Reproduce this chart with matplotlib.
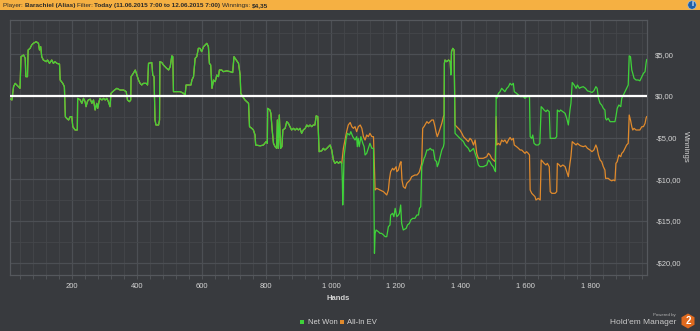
import numpy as np
import matplotlib
matplotlib.use("Agg")
import matplotlib.pyplot as plt
from matplotlib.patches import Rectangle, Circle, RegularPolygon
from matplotlib.ticker import MultipleLocator, FuncFormatter

matplotlib.rcParams["font.family"] = ["Liberation Sans", "DejaVu Sans"]

# Net Won (hands, dollars)
net_hands = [6, 14, 19, 24, 34, 39, 42, 50, 55, 57, 62, 64, 70, 75, 80, 89, 96, 99, 103, 106,
             111, 120, 124, 130, 137, 142, 147, 153, 161, 163, 171, 176, 179, 183, 189, 194, 199, 202, 209, 216,
             217, 225, 230, 235, 240, 243, 247, 250, 256, 261, 266, 271, 276, 279, 283, 286, 292, 297, 302, 307,
             312, 317, 320, 328, 338, 348, 359, 367, 371, 377, 381, 382, 389, 395, 400, 405, 410, 415, 420, 429,
             433, 436, 446, 449, 453, 456, 459, 467, 470, 471, 477, 482, 487, 492, 498, 503, 508, 511, 513, 523,
             534, 544, 549, 552, 567, 570, 575, 580, 585, 590, 595, 600, 606, 611, 616, 621, 624, 628, 632, 637,
             642, 647, 652, 655, 662, 667, 678, 688, 696, 700, 707, 714, 719, 721, 727, 734, 745, 748, 755, 760,
             765, 767, 781, 791, 799, 803, 804, 811, 814, 818, 822, 827, 832, 834, 837, 840, 844, 848, 851, 858,
             863, 868, 873, 878, 884, 889, 894, 899, 904, 909, 914, 920, 925, 930, 935, 940, 945, 950, 954, 959,
             963, 971, 976, 981, 987, 992, 997, 1002, 1007, 1012, 1018, 1023, 1028, 1033, 1035, 1036, 1038, 1040, 1046, 1050,
             1057, 1061, 1067, 1074, 1079, 1081, 1084, 1087, 1092, 1098, 1102, 1105, 1110, 1115, 1120, 1126, 1131, 1133, 1134, 1136,
             1139, 1146, 1151, 1156, 1162, 1167, 1172, 1177, 1182, 1184, 1190, 1194, 1198, 1203, 1208, 1211, 1215, 1218, 1223, 1232,
             1236, 1242, 1246, 1252, 1259, 1265, 1270, 1273, 1277, 1280, 1283, 1287, 1290, 1296, 1301, 1306, 1311, 1316, 1321, 1326,
             1328, 1332, 1337, 1342, 1347, 1349, 1350, 1352, 1357, 1363, 1368, 1370, 1372, 1376, 1380, 1383, 1388, 1398, 1404, 1409,
             1414, 1419, 1424, 1429, 1435, 1440, 1445, 1450, 1455, 1460, 1470, 1481, 1486, 1491, 1496, 1501, 1505, 1508, 1510, 1512,
             1517, 1522, 1527, 1532, 1537, 1543, 1548, 1553, 1558, 1563, 1566, 1573, 1579, 1584, 1594, 1599, 1604, 1609, 1613, 1615,
             1620, 1623, 1627, 1633, 1640, 1645, 1649, 1654, 1658, 1664, 1668, 1674, 1677, 1682, 1692, 1697, 1699, 1705, 1709, 1716,
             1723, 1728, 1733, 1738, 1741, 1745, 1751, 1757, 1761, 1767, 1771, 1779, 1786, 1792, 1800, 1806, 1812, 1818, 1822, 1826,
             1831, 1836, 1841, 1846, 1848, 1851, 1856, 1862, 1867, 1872, 1877, 1880, 1884, 1889, 1895, 1898, 1903, 1908, 1913, 1918,
             1921, 1925, 1929, 1932, 1936, 1942, 1949, 1954, 1960, 1965, 1970, 1973, 1975]
net_won = [-0.3, -0.5, 1.1, 1.5, 1.1, 0.9, 4.7, 4.9, 4.5, 2.3, 2.3, 5.5, 5.7, 6.1, 6.3, 6.5, 6.3, 5.5, 5.9, 4.7,
           4.3, 4.1, 4.3, 3.9, 4.3, 3.9, 4.1, 3.9, 3.8, 1.9, 1.5, 1.1, -2.5, -2.7, -2.9, -2.5, -2.5, -3.7, -4.1, -4.1,
           -0.3, -0.5, -0.9, -0.3, -0.7, -1.3, -0.7, -0.5, -0.4, -0.9, -0.5, -1.7, -0.9, -1.5, -0.7, -0.3, -0.5, -0.3, -0.5, -0.3,
           -0.7, -1.3, 0.3, 0.6, 0.9, 0.7, 0.7, 0.5, -0.5, -0.7, -0.5, 2.3, 2.7, 3.1, 2.5, 1.9, 1.5, 1.3, 1.5, 1.5,
           1.3, 3.9, 4.0, 2.5, 2.3, -2.9, -3.5, -3.5, -2.9, 4.1, 4.0, 3.7, 3.5, 3.3, 3.1, 3.5, 4.8, 4.7, 0.5, 0.5,
           0.5, 0.3, 0.1, 1.3, 1.3, 1.9, 2.3, 4.5, 4.7, 5.7, 5.7, 5.3, 5.9, 6.1, 6.3, 5.9, 3.9, 3.7, 0.9, 1.9,
           1.7, 2.5, 2.3, 3.1, 3.1, 2.9, 3.0, 2.9, 2.8, 4.7, 4.3, 3.9, 2.5, 0.3, -0.1, -0.5, -0.9, -3.7, -3.9, -4.1,
           -4.7, -5.9, -6.0, -5.9, -5.5, -5.7, -1.5, -1.7, -2.1, -4.1, -5.7, -6.1, -6.3, -2.9, -6.3, -2.3, -6.3, -6.1, -4.1, -3.9,
           -3.1, -3.3, -3.7, -4.1, -3.9, -4.1, -3.9, -4.1, -3.9, -4.5, -4.1, -3.9, -3.5, -3.7, -3.5, -3.7, -3.5, -3.5, -2.4, -2.5,
           -6.7, -6.6, -6.3, -6.5, -6.3, -6.1, -5.9, -6.5, -7.7, -8.1, -7.9, -8.1, -7.9, -8.1, -10.5, -13.1, -10.5, -7.3, -5.3, -4.5,
           -4.7, -4.3, -4.9, -5.3, -4.9, -6.1, -5.1, -6.1, -4.9, -5.7, -6.1, -7.1, -6.9, -6.3, -5.7, -6.3, -6.3, -15.3, -18.9, -16.5,
           -16.1, -16.3, -16.5, -16.5, -16.7, -16.9, -16.9, -15.7, -15.5, -14.3, -14.1, -14.5, -13.5, -14.5, -14.3, -14.1, -13.1, -15.3, -16.1, -15.9,
           -15.5, -15.3, -14.9, -14.7, -14.7, -14.3, -14.3, -13.5, -13.3, -8.5, -8.1, -7.5, -7.3, -6.5, -6.5, -6.3, -6.5, -6.5, -7.7, -7.9,
           -8.5, -8.1, -7.3, -6.5, -6.1, -5.7, 3.9, 4.3, 4.1, 4.3, 4.1, 2.5, 5.3, 5.7, 5.5, -4.5, -4.7, -5.1, -5.3, -5.5,
           -5.9, -6.1, -6.3, -6.7, -6.5, -6.3, -6.9, -7.5, -8.3, -8.5, -8.5, -8.3, -7.7, -7.9, -8.3, -8.5, -8.9, -9.1, -0.1, -0.3,
           0.3, 0.5, 0.9, 0.7, 0.5, 0.9, 1.1, 1.5, 1.3, 1.5, 0.5, 0.3, 0.1, -0.1, -0.1, -0.3, -0.1, -0.1, -0.1, -4.9,
           -5.1, -4.7, -5.7, -5.9, -5.9, -5.7, -1.3, -1.5, -1.7, -1.9, -1.7, -1.9, -5.1, -5.1, -5.1, -4.9, -1.7, -1.9, -1.7, -1.9,
           -2.1, -2.7, -3.5, -1.7, -0.9, 1.6, 1.3, 0.9, 1.3, 0.9, 1.0, 1.1, 0.9, 0.6, 0.5, 0.4, 0.6, 1.1, 0.9, -0.3,
           -0.9, -1.1, -1.5, -1.7, -2.7, -2.9, -2.7, -3.1, -3.1, -3.1, -3.1, -2.5, -1.5, -1.1, -1.3, -0.3, 0.1, 0.5, 0.9, 1.3,
           4.8, 4.7, 3.1, 2.7, 2.1, 1.9, 1.9, 1.8, 2.3, 2.7, 2.9, 3.9, 4.35]

# All-In EV, where it differs from Net Won (before hand 1033 both are the same)
ev_split = 1033
ev_hands = [1033, 1038, 1043, 1048, 1053, 1059, 1064, 1069, 1074, 1079, 1084, 1090, 1095, 1100, 1105, 1110, 1115, 1120, 1126, 1131,
            1134, 1136, 1141, 1151, 1162, 1167, 1172, 1177, 1180, 1184, 1190, 1194, 1201, 1203, 1208, 1213, 1216, 1219, 1223, 1229,
            1234, 1239, 1244, 1249, 1254, 1259, 1265, 1270, 1273, 1277, 1280, 1283, 1287, 1290, 1296, 1301, 1306, 1311, 1316, 1321,
            1324, 1328, 1332, 1337, 1342, 1347, 1349, 1350, 1352, 1357, 1363, 1368, 1370, 1372, 1376, 1380, 1383, 1388, 1393, 1398,
            1404, 1409, 1414, 1419, 1424, 1429, 1434, 1440, 1445, 1448, 1450, 1455, 1460, 1470, 1481, 1486, 1491, 1496, 1501, 1507,
            1510, 1512, 1517, 1522, 1527, 1532, 1537, 1543, 1548, 1553, 1558, 1563, 1566, 1573, 1579, 1584, 1589, 1594, 1599, 1604,
            1609, 1613, 1615, 1620, 1625, 1630, 1633, 1640, 1646, 1649, 1654, 1658, 1664, 1668, 1674, 1677, 1682, 1692, 1697, 1699,
            1705, 1709, 1716, 1723, 1728, 1733, 1738, 1741, 1745, 1751, 1757, 1761, 1767, 1771, 1779, 1786, 1792, 1800, 1806, 1812,
            1818, 1822, 1826, 1831, 1836, 1841, 1846, 1848, 1856, 1862, 1867, 1872, 1877, 1880, 1884, 1889, 1895, 1898, 1903, 1908,
            1913, 1918, 1921, 1925, 1929, 1932, 1936, 1942, 1949, 1954, 1960, 1965, 1970, 1973, 1975]
ev_won = [-8.1, -6.3, -5.3, -4.3, -3.5, -3.2, -3.7, -3.9, -3.7, -4.3, -3.7, -3.5, -3.9, -4.9, -5.3, -4.7, -4.9, -4.5, -4.9, -4.9,
          -8.5, -11.3, -11.1, -11.3, -11.5, -11.7, -11.9, -11.3, -10.1, -9.1, -8.7, -8.9, -8.5, -9.1, -8.9, -8.1, -7.9, -10.1, -10.9, -11.1,
          -10.5, -10.3, -10.1, -9.7, -9.6, -9.5, -9.5, -9.3, -9.1, -8.5, -8.1, -3.9, -3.7, -3.5, -3.1, -3.3, -3.1, -2.9, -2.9, -3.7,
          -4.3, -4.9, -4.5, -3.9, -3.3, -2.5, -2.3, 3.9, 4.3, 4.1, 4.3, 4.1, 2.7, 5.3, 5.7, 5.5, -3.5, -3.7, -3.9, -4.1,
          -4.5, -4.9, -5.1, -5.3, -5.5, -5.1, -5.3, -5.9, -5.3, -6.3, -6.9, -7.5, -7.5, -7.5, -7.3, -6.9, -7.1, -7.5, -7.7, -7.9,
          -2.5, -5.9, -5.7, -5.9, -5.3, -5.5, -5.3, -5.7, -5.3, -5.0, -5.3, -5.1, -5.9, -6.1, -6.3, -6.5, -6.5, -6.7, -6.9, -6.7,
          -6.9, -7.1, -11.3, -11.7, -11.9, -12.1, -12.5, -12.3, -12.5, -7.7, -7.9, -8.1, -8.3, -8.1, -8.5, -11.5, -11.7, -11.7, -11.5, -8.1,
          -8.3, -8.5, -8.3, -8.5, -9.1, -9.7, -8.1, -7.3, -5.5, -5.7, -5.9, -5.7, -5.9, -6.0, -6.1, -6.0, -6.3, -6.5, -6.7, -6.5,
          -5.9, -6.3, -7.1, -7.7, -7.9, -8.5, -8.9, -9.9, -9.9, -10.1, -10.2, -10.1, -10.2, -8.1, -7.9, -7.1, -7.3, -6.9, -6.7, -6.3,
          -5.9, -5.7, -2.3, -2.9, -3.7, -4.1, -3.9, -4.1, -4.1, -4.1, -3.7, -3.7, -3.3, -2.7, -2.5]

x_ticks = [200, 400, 600, 800, 1000, 1200, 1400, 1600, 1800]
y_ticks = [-20, -15, -10, -5, 0, 5]

BG = "#383a3e"
TXT = "#d4d4d4"
GREEN = "#3fd23a"
ORANGE = "#e08a2c"

fig = plt.figure(figsize=(7.0, 3.31), dpi=100, facecolor=BG)
W, H = 700, 331
inch = fig.dpi_scale_trans

ax = fig.add_axes([10 / W, 1 - 275 / H, 637 / W, 255 / H], facecolor=BG)

# header bar, pieces laid out one after another on a common baseline
fig.patches.append(Rectangle((0, 1 - 10 / H), 1, 10 / H, transform=fig.transFigure,
                             facecolor="#f5b042", edgecolor="none"))
pieces = [("Player: ", "normal"), ("Barachiel (Alias) ", "bold"), ("Filter: ", "normal"),
          ("Today (11.06.2015 7:00 to 12.06.2015 7:00) ", "bold"), ("Winnings: ", "normal"),
          ("$4,35", "bold")]
renderer = fig.canvas.get_renderer()
xpos = 3.0
for s, w in pieces:
    t = fig.text(xpos / W, 1 - 7 / H, s, fontsize=4.6, color="#2a2a2a", va="baseline",
                 fontweight=w)
    xpos += t.get_window_extent(renderer).width
fig.patches.append(Circle((6.92, 3.26), 0.042, transform=inch,
                          facecolor="#1f5fa8", edgecolor="#9cc4ee", lw=0.4))
fig.text(692 / W, 1 - 5 / H, "i", fontsize=5, color="white", ha="center", va="center",
         fontweight="bold")

ax.plot(np.r_[[h for h in net_hands if h < ev_split], ev_hands],
        np.r_[[v for h, v in zip(net_hands, net_won) if h < ev_split], ev_won],
        color=ORANGE, lw=0.9, zorder=3)
ax.plot(net_hands, net_won, color=GREEN, lw=0.9, zorder=4)
ax.axhline(0, color="white", lw=1.6, zorder=5)

ax.set_xlim(8, 1976)
ax.set_ylim(-21.5, 9.1)
ax.xaxis.set_minor_locator(MultipleLocator(40))
ax.yaxis.set_minor_locator(MultipleLocator(2.5))
ax.set_xticks(x_ticks)
ax.set_yticks(y_ticks)
ax.grid(which="major", color="#4c4f54", lw=0.9)
ax.grid(which="minor", color="#44474b", lw=0.6)
ax.set_axisbelow(True)
for sp in ax.spines.values():
    sp.set_color("#55585d")
    sp.set_linewidth(0.9)

ax.xaxis.set_major_formatter(FuncFormatter(lambda v, p: "{:,}".format(int(v)).replace(",", " ")))


def money(v, p):
    s = "${:.2f}".format(abs(v)).replace(".", ",")
    return "-" + s if v < 0 else s


ax.yaxis.set_major_formatter(FuncFormatter(money))
ax.yaxis.tick_right()
ax.tick_params(axis="x", which="both", colors="#55585d", labelcolor=TXT, labelsize=5.5,
               length=3, width=0.6, pad=3)
ax.tick_params(axis="y", which="both", length=0, labelcolor=TXT, labelsize=5.5, pad=6)

fig.text(685 / W, 1 - 147 / H, "Winnings", rotation=270, fontsize=5.5, color=TXT,
         ha="center", va="center")
fig.text(338 / W, 1 - 298 / H, "Hands", fontsize=5.5, color=TXT, ha="center", va="center",
         fontweight="bold")

# legend
fig.patches.append(Rectangle((300 / W, 1 - 324 / H), 4 / W, 4 / H, transform=fig.transFigure,
                             facecolor=GREEN, edgecolor="none"))
fig.text(308 / W, 1 - 322 / H, "Net Won", fontsize=5.5, color=TXT, va="center")
fig.patches.append(Rectangle((340 / W, 1 - 324 / H), 4 / W, 4 / H, transform=fig.transFigure,
                             facecolor=ORANGE, edgecolor="none"))
fig.text(347 / W, 1 - 322 / H, "All-In EV", fontsize=5.5, color=TXT, va="center")

# branding
fig.text(676 / W, 1 - 315 / H, "Powered by", fontsize=3.2, color="#b0b0b0", ha="right", va="center")
fig.text(676 / W, 1 - 322.5 / H, "Hold'em Manager", fontsize=6, color="#c8c8c8", ha="right", va="center")
fig.patches.append(RegularPolygon((6.88, 0.10), 6, radius=0.075, transform=inch,
                                  facecolor="#e06a1e", edgecolor="none"))
fig.text(688 / W, 1 - 321 / H, "2", fontsize=7, color="white", ha="center", va="center",
         fontweight="bold")

fig.savefig("out.png", dpi=100, facecolor=BG)
